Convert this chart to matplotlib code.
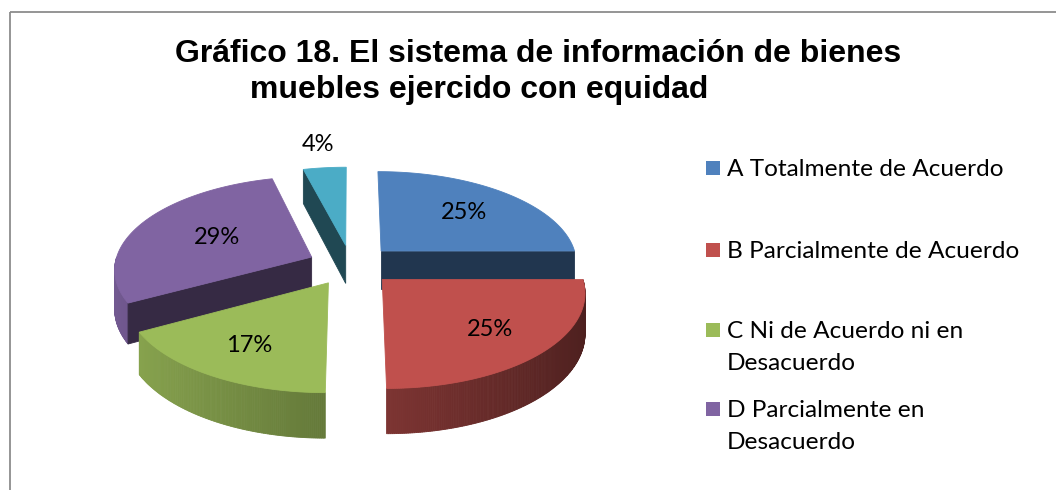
import numpy as np
import matplotlib
matplotlib.use("Agg")
import matplotlib.pyplot as plt
from matplotlib.patches import Polygon, Rectangle
from matplotlib.colors import to_rgb

# data
legend_labels = ["A Totalmente de Acuerdo",
                 "B Parcialmente de Acuerdo",
                 "C Ni de Acuerdo ni en\nDesacuerdo",
                 "D Parcialmente en\nDesacuerdo"]
values = [25, 25, 17, 29, 4]
pct_labels = ["25%", "25%", "17%", "29%", "4%"]
colors = ["#4F81BD", "#C0504D", "#9BBB59", "#8064A2", "#4BACC6"]
title_lines = ["Gráfico 18. El sistema de información de bienes",
               "muebles ejercido con equidad"]

# pie geometry, in pixel units of the figure
CX, CY = 351, 265
RX, RY = 197, 92
DEPTH = 39
PERSP = 0.12
EXPLODE = 0.22
label_r = [0.65, 0.7, 0.7, 0.55, 1.35]

W, H = 1056, 490
fig = plt.figure(figsize=(W / 100, H / 100), dpi=100)
ax = fig.add_axes([0, 0, 1, 1])
ax.set_xlim(0, W)
ax.set_ylim(H, 0)
ax.axis("off")


def project(X, Y, d):
    s = 1.0 / (1.0 + PERSP * Y)
    return CX + RX * X * s, CY + (-RY * Y + DEPTH * d) * s


def shade(c, f):
    return tuple(np.clip(np.array(to_rgb(c)) * f, 0, 1))


def poly(pts, color, z):
    ax.add_patch(Polygon(pts, closed=True, facecolor=color, edgecolor=color,
                         linewidth=0.6, zorder=z))


total = float(sum(values))
cum = np.concatenate([[0], np.cumsum(values)]) / total
starts = np.radians(90 - 360 * cum[:-1])
ends = np.radians(90 - 360 * cum[1:])
mids = (starts + ends) / 2

# back slices first
order = sorted(range(len(values)), key=lambda i: -np.sin(mids[i]))
for z, i in enumerate(order):
    t1, t2 = ends[i], starts[i]
    ox, oy = EXPLODE * np.cos(mids[i]), EXPLODE * np.sin(mids[i])
    ts = np.linspace(t1, t2, max(int(np.degrees(t2 - t1)) * 2, 4))
    rx, ry = ox + np.cos(ts), oy + np.sin(ts)
    base = 3 * z

    # outer wall, shaded piece by piece
    for k in range(len(ts) - 1):
        tm = (ts[k] + ts[k + 1]) / 2
        if np.sin(tm) >= 0:
            continue
        f = 0.4 + 0.5 * (1 - np.cos(tm)) / 2
        pts = [project(rx[k], ry[k], 0), project(rx[k + 1], ry[k + 1], 0),
               project(rx[k + 1], ry[k + 1], 1), project(rx[k], ry[k], 1)]
        poly(pts, shade(colors[i], f), base)

    # radial cut faces
    for t, vis in ((t1, np.cos(t1) > 0.01), (t2, np.cos(t2) < -0.01)):
        if not vis:
            continue
        ex, ey = ox + np.cos(t), oy + np.sin(t)
        pts = [project(ox, oy, 0), project(ex, ey, 0),
               project(ex, ey, 1), project(ox, oy, 1)]
        poly(pts, shade(colors[i], 0.42), base + 1)

    # top face
    pts = [project(ox, oy, 0)] + [project(a, b, 0) for a, b in zip(rx, ry)]
    poly(pts, colors[i], base + 2)

for i in range(len(values)):
    r = label_r[i]
    lx, ly = project(EXPLODE * np.cos(mids[i]) + r * np.cos(mids[i]),
                     EXPLODE * np.sin(mids[i]) + r * np.sin(mids[i]), 0)
    ax.text(lx, ly, pct_labels[i], ha="center", va="center", fontsize=17,
            family="Lato", color="black", zorder=50)

# legend (only the visible part)
leg_base = [176, 258, 338, 417]
for i, lab in enumerate(legend_labels):
    y0 = leg_base[i]
    ax.add_patch(Rectangle((706, y0 - 15), 14, 14, facecolor=colors[i],
                           edgecolor="none", zorder=50))
    for k, line in enumerate(lab.split("\n")):
        ax.text(727, y0 + 32 * k, line, ha="left", va="baseline",
                fontsize=17.6, family="Lato", color="black", zorder=50)

# title
ax.text(175, 62, title_lines[0], ha="left", va="baseline", fontsize=23,
        fontweight="bold", family="Liberation Sans")
ax.text(250, 98, title_lines[1], ha="left", va="baseline", fontsize=23,
        fontweight="bold", family="Liberation Sans")

# chart area border (cropped on the right and bottom)
ax.add_patch(Rectangle((10, 12), 1200, 600, fill=False, edgecolor="#8c8c8c",
                       linewidth=1.3, zorder=60))

fig.savefig("out.png", dpi=100)
